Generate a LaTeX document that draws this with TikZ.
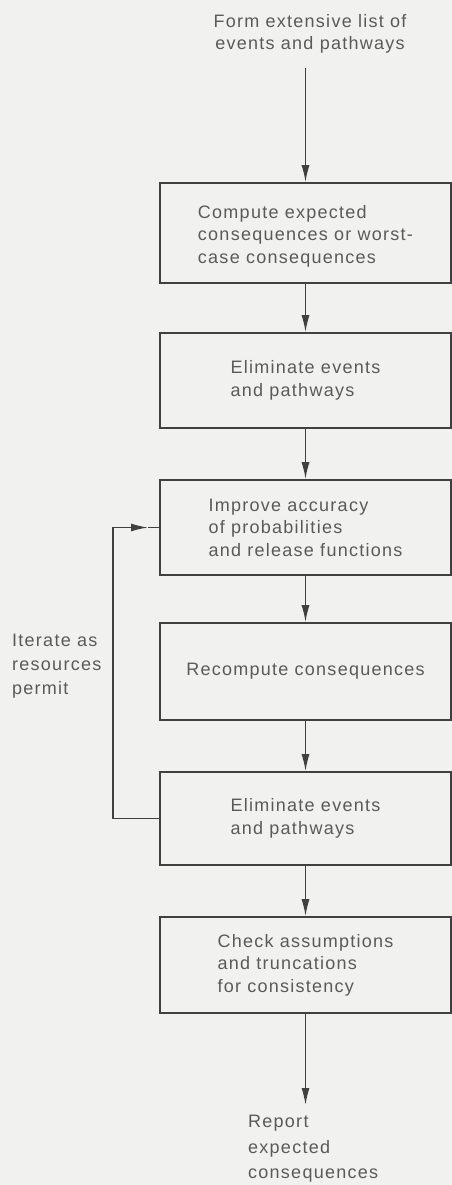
\documentclass[tikz,border=0pt]{standalone}
\usepackage{fontspec}
\setmainfont{Liberation Sans}[LetterSpace=7]
\usetikzlibrary{arrows.meta}
\definecolor{bg}{HTML}{F1F1EF}
\definecolor{ink}{HTML}{404040}
\definecolor{txt}{HTML}{5A5A5A}
\tikzset{
  stepbox/.style={draw=ink, line width=1.6pt, minimum width=291pt, inner sep=0pt},
  boxtext/.style={align=left, text=txt, font=\fontsize{18}{22.5}\selectfont, inner sep=0pt},
  flow/.style={draw=ink, line width=1.5pt, -{Latex[length=17pt,width=8pt]}},
  plain/.style={draw=ink, line width=1.5pt},
}
\begin{document}
\begin{tikzpicture}[x=1pt,y=-1pt]
\fill[bg] (0,0) rectangle (452,1185);
\useasboundingbox (0,0) rectangle (452,1185);

\node[boxtext, align=center] (start) at (310,34) {Form extensive list of\\events and pathways};

\node[stepbox, minimum height=100pt] (b1) at (305.5,233) {};
\node[boxtext] at ([yshift=-3pt]b1.center) {Compute expected\\consequences or worst-\\case consequences};

\node[stepbox, minimum height=95pt] (b2) at (305.5,380.5) {};
\node[boxtext] at (b2.center) {Eliminate events\\and pathways};

\node[stepbox, minimum height=95pt] (b3) at (305.5,527.5) {};
\node[boxtext] at (b3.center) {Improve accuracy\\of probabilities\\and release functions};

\node[stepbox, minimum height=97pt] (b4) at (305.5,671.5) {};
\node[boxtext] at (b4.center) {Recompute consequences};

\node[stepbox, minimum height=93pt] (b5) at (305.5,818.5) {};
\node[boxtext] at (b5.center) {Eliminate events\\and pathways};

\node[stepbox, minimum height=96pt] (b6) at (305.5,965) {};
\node[boxtext] at (b6.center) {Check assumptions\\and truncations\\for consistency};

\node[boxtext, anchor=north west, font=\fontsize{18}{25.5}\selectfont] (rep) at (248,1115) {Report\\expected\\consequences};

\node[boxtext, anchor=north west, font=\fontsize{18}{24}\selectfont] (iter) at (12,634) {Iterate as\\resources\\permit};

\coordinate (topstart) at (305.5,68);
\coordinate (botend) at (305.5,1105);
\coordinate (loopbot) at (113,818.5);
\coordinate (looptop) at (113,527.5);
\coordinate (looparrow) at (148,527.5);

\draw[flow] (topstart) -- (b1.north);
\draw[flow] (b1.south) -- (b2.north);
\draw[flow] (b2.south) -- (b3.north);
\draw[flow] (b3.south) -- (b4.north);
\draw[flow] (b4.south) -- (b5.north);
\draw[flow] (b5.south) -- (b6.north);
\draw[flow] (b6.south) -- (botend);

\draw[flow] (b5.west) -- (loopbot) -- (looptop) -- (looparrow);
\draw[plain] (looparrow) -- (b3.west);
\end{tikzpicture}
\end{document}
